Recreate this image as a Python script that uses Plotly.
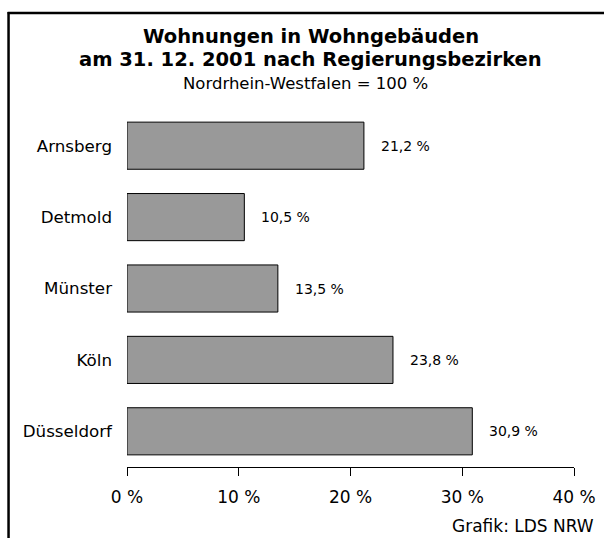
import plotly.graph_objects as go

regions = ["Arnsberg", "Detmold", "Münster", "Köln", "Düsseldorf"]
shares = [21.2, 10.5, 13.5, 23.8, 30.9]
share_labels = ["21,2 %", "10,5 %", "13,5 %", "23,8 %", "30,9 %"]
tick_vals = [0, 10, 20, 30, 40]
tick_text = ["0 %", "10 %", "20 %", "30 %", "40 %"]

FONT = "DejaVu Sans"

fig = go.Figure()
fig.add_trace(go.Bar(
    x=shares, y=regions, orientation="h",
    marker=dict(color="#999999", line=dict(color="#000000", width=1)),
    width=0.66, hoverinfo="skip",
))

for r, v, t in zip(regions, shares, share_labels):
    fig.add_annotation(x=v, y=r, text=t, showarrow=False, xanchor="left",
                       xshift=15, font=dict(family=FONT, size=14, color="#000"))

fig.add_annotation(xref="paper", yref="paper", x=0.5, y=1.0, yshift=74,
                   xshift=-40,
                   text="<b>Wohnungen in Wohngebäuden</b>",
                   showarrow=False, xanchor="center", yanchor="middle",
                   font=dict(family=FONT, size=19.5, color="#000"))
fig.add_annotation(xref="paper", yref="paper", x=0.5, y=1.0, yshift=51,
                   xshift=-40,
                   text="<b>am 31. 12. 2001 nach Regierungsbezirken</b>",
                   showarrow=False, xanchor="center", yanchor="middle",
                   font=dict(family=FONT, size=19.5, color="#000"))
fig.add_annotation(xref="paper", yref="paper", x=0.5, y=1.0, yshift=27,
                   xshift=-45,
                   text="Nordrhein-Westfalen = 100 %", showarrow=False,
                   xanchor="center", yanchor="middle",
                   font=dict(family=FONT, size=16.5, color="#000"))
fig.add_annotation(xref="paper", yref="paper", x=1.0, y=0, yshift=-59,
                   xshift=22,
                   text="Grafik: LDS NRW", showarrow=False,
                   xanchor="right", yanchor="middle",
                   font=dict(family=FONT, size=17, color="#000"))

# frame (cropped box)
fig.add_shape(type="line", xref="paper", yref="paper",
              x0=-0.267, x1=1.2, y0=1.2717, y1=1.2717,
              line=dict(color="#000", width=2.5))
fig.add_shape(type="line", xref="paper", yref="paper",
              x0=-0.265, x1=-0.265, y0=1.2745, y1=-0.3,
              line=dict(color="#000", width=2.5))

fig.update_layout(
    template="none",
    width=604, height=538,
    margin=dict(l=127, r=30, t=110, b=71, autoexpand=False),
    paper_bgcolor="white", plot_bgcolor="white",
    showlegend=False,
    font=dict(family=FONT, color="#000"),
    xaxis=dict(range=[0, 40], tickvals=tick_vals, ticktext=tick_text,
               showgrid=False, zeroline=False, showline=True,
               linecolor="#000", linewidth=1, ticks="outside", ticklen=8,
               tickcolor="#000", tickwidth=1, automargin=False,
               ticklabelstandoff=7,
               tickfont=dict(family=FONT, size=17), fixedrange=True),
    yaxis=dict(categoryorder="array", categoryarray=regions[::-1],
               range=[-0.5, 4.5], showgrid=False, zeroline=False,
               showline=False, ticks="", ticklabelstandoff=14,
               automargin=False,
               tickfont=dict(family=FONT, size=16.7), fixedrange=True),
)

fig.write_html("out.html", config={"displayModeBar": False},
               post_script="document.body.style.margin='0px';")
